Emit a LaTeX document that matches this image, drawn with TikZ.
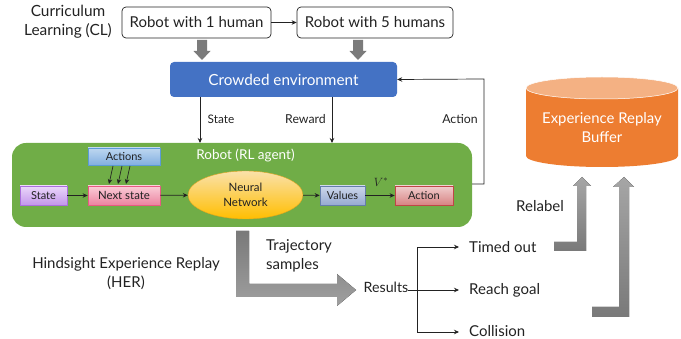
\documentclass[tikz,border=0pt]{standalone}
\usepackage{fontspec}
\setmainfont{Lato}
\usetikzlibrary{arrows.meta,shapes.geometric}
\definecolor{ink}{HTML}{222222}
\tikzset{
 x=1pt,y=-1pt,
 conn/.style={draw=ink,line width=0.7pt,-{Stealth[length=5pt,width=4.5pt]}},
 plainconn/.style={draw=ink,line width=0.7pt},
 lbl/.style={text=ink,inner sep=0pt,font=\fontsize{#1}{#1}\selectfont},
 lbl/.default=14,
 roundbox/.style={draw=ink,line width=0.7pt,rounded corners=4pt,fill=white,inner sep=0pt,text=ink,font=\fontsize{15}{15}\selectfont},
 smallbox/.style={line width=0.7pt,inner sep=0pt,text=ink,font=\fontsize{11}{11}\selectfont},
}
\begin{document}
\begin{tikzpicture}
\useasboundingbox (0,0) rectangle (681,339);
% top
\node[roundbox,minimum width=149pt,minimum height=31pt] (r1) at (196.5,22.5) {Robot with 1 human};
\node[roundbox,minimum width=156pt,minimum height=31pt] (r5) at (375,22.5) {Robot with 5 humans};
\node[lbl=15.4,align=center] (cl) at (68,22) {Curriculum\\[4pt]Learning (CL)};
\draw[conn] (r1) -- (r5);
\node[fill={rgb,255:red,68;green,114;blue,196},rounded corners=4pt,minimum width=227pt,minimum height=35pt,inner sep=0pt,text=white,font=\fontsize{15.3}{15}\selectfont] (env) at (283.5,79.5) {Crowded environment};
% block down arrows
\foreach \x in {202,358}{
 \fill[gray!85!black!90] (\x-5,40)--(\x+5,40)--(\x+5,51)--(\x+8.5,51)--(\x,60)--(\x-8.5,51)--(\x-5,51)--cycle;
}
% green
\node[fill={rgb,255:red,112;green,173;blue,71},rounded corners=14pt,minimum width=460pt,minimum height=84pt,inner sep=0pt] (agent) at (242,185) {};
\node[text=white,inner sep=0pt,font=\fontsize{13.5}{13.5}\selectfont] (agentlbl) at (245.5,155) {Robot (RL agent)};
\node[smallbox,draw={rgb,255:red,91;green,155;blue,213},top color={rgb,255:red,190;green,215;blue,240},bottom color={rgb,255:red,130;green,175;blue,225},minimum width=72pt,minimum height=17pt] (actions) at (124,156.5) {Actions};
\node[smallbox,draw={rgb,255:red,230;green,90;blue,130},top color={rgb,255:red,250;green,205;blue,215},bottom color={rgb,255:red,235;green,130;blue,160},minimum width=72pt,minimum height=19pt,font=\fontsize{11.4}{11}\selectfont] (next) at (124,195.5) {Next state};
\node[smallbox,draw={rgb,255:red,170;green,110;blue,220},top color={rgb,255:red,235;green,215;blue,250},bottom color={rgb,255:red,195;green,150;blue,235},minimum width=47pt,minimum height=19pt] (state) at (43.5,195.5) {State};
\node[ellipse,draw={rgb,255:red,225;green,165;blue,30},top color={rgb,255:red,250;green,225;blue,170},bottom color={rgb,255:red,255;green,190;blue,0},minimum width=115pt,minimum height=48pt,inner sep=0pt,text=ink,align=center,font=\fontsize{11.5}{14.5}\selectfont] (nn) at (245.5,195) {Neural\\Network};
\node[smallbox,draw={rgb,255:red,100;green,125;blue,170},top color={rgb,255:red,205;green,215;blue,235},bottom color={rgb,255:red,150;green,170;blue,210},minimum width=45pt,minimum height=19pt] (values) at (342.5,195.5) {Values};
\node[smallbox,draw={rgb,255:red,190;green,70;blue,70},top color={rgb,255:red,240;green,205;blue,205},bottom color={rgb,255:red,215;green,130;blue,130},minimum width=58pt,minimum height=19pt] (action) at (424,195.5) {Action};
\node[inner sep=0pt,text=ink,font=\fontsize{12}{12}\selectfont] (vstar) at (381,182) {$V^{*}$};
\draw[conn] (state) -- (next);
\draw[conn] (next) -- (nn);
\draw[conn] (nn) -- (values);
\draw[conn] (values) -- (action);
\foreach \x in {113,122,130}{
 \coordinate (af\x) at (\x,166);
 \coordinate (at\x) at (\x-4,184);
 \draw[conn] (af\x) -- (at\x);
}
% env connectors
\coordinate (sIn) at (200,143);
\coordinate (rIn) at (332,143);
\coordinate (sOut) at (200,97);
\coordinate (rOut) at (332,97);
\draw[conn] (sOut) -- (sIn);
\draw[conn] (rOut) -- (rIn);
\coordinate (aOut) at (472,184);
\coordinate (aCorner) at (484,184);
\coordinate (aTop) at (484,79);
\draw[conn] (aOut) -- (aCorner) -- (aTop) -- (env.east);
\node[lbl=11.8] (lstate) at (221,119) {State};
\node[lbl=12.3] (lreward) at (305.5,119) {Reward};
\node[lbl=12.3] (laction) at (460,119) {Action};
% HER
\node[lbl=15,align=center] (her) at (126,273.5) {Hindsight Experience Replay\\[4pt](HER)};
\node[lbl=15,align=left,anchor=west] (traj) at (266,255.5) {Trajectory\\[4pt]samples};
\fill[top color=gray!95!black,bottom color=gray!75] (236,231)--(249,231)--(249,284)--(337,284)--(337,274)--(356,290)--(337,306)--(337,297)--(236,297)--cycle;
\node[lbl=14.2] (results) at (386,287) {Results};
\node[lbl=15,anchor=west] (to) at (469,247) {Timed out};
\node[lbl=15,anchor=west] (rg) at (469,290) {Reach goal};
\node[lbl=15,anchor=west] (co) at (469,331) {Collision};
\coordinate (tr) at (417,290);
\draw[plainconn] (results.east |- tr) -- (tr);
\coordinate (trTop) at (417,247);
\coordinate (trBot) at (417,332);
\coordinate (tTo) at (459,247);
\coordinate (tRg) at (459,290);
\coordinate (tCo) at (459,332);
\draw[conn] (tr) -- (trTop) -- (tTo);
\draw[conn] (tr) -- (tRg);
\draw[conn] (tr) -- (trBot) -- (tCo);
\node[lbl=15] (relabel) at (540,206) {Relabel};
\fill[top color=gray!70,bottom color=gray!95!black] (554,242)--(577,242)--(577,186)--(573,186)--(582,177)--(591,186)--(586,186)--(586,251)--(554,251)--cycle;
\fill[top color=gray!70,bottom color=gray!95!black] (592,307)--(619,307)--(619,187)--(613,187)--(624,177)--(634,187)--(629,187)--(629,317)--(592,317)--cycle;
% cylinder
\definecolor{cylO}{HTML}{ED7D31}
\definecolor{cylT}{HTML}{F4B183}
\fill[cylO] (526,88) -- (526,156) arc[start angle=180,end angle=0,x radius=76,y radius=11] -- (678,88) -- cycle;
\fill[cylT,draw=white,line width=0.5pt] (602,88) ellipse[x radius=76,y radius=11];
\node[text=white,inner sep=0pt,align=center,font=\fontsize{14.9}{19}\selectfont] (buf) at (602,127.5) {Experience Replay\\Buffer};
\end{tikzpicture}
\end{document}
